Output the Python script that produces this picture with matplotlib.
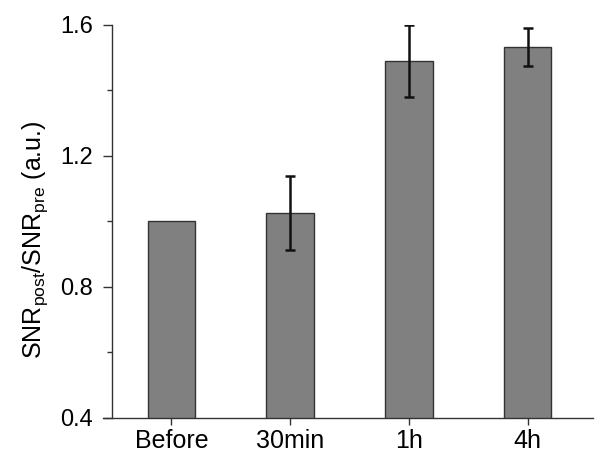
import matplotlib.pyplot as plt
from matplotlib.ticker import MultipleLocator

plt.rcParams["font.family"] = ["Liberation Sans", "DejaVu Sans"]
plt.rcParams["mathtext.fontset"] = "custom"
plt.rcParams["mathtext.rm"] = "Liberation Sans"

# data
groups = ["Before", "30min", "1h", "4h"]
ratio = [1.0, 1.025, 1.489, 1.531]
ratio_err = [0.0, 0.112, 0.11, 0.058]

fig = plt.figure(figsize=(6.02, 4.65), dpi=100)
ax = fig.add_axes([0.186, 0.102, 0.799, 0.845])

x = range(len(groups))
ax.bar(x, ratio, width=0.4, color="#808080", edgecolor="#333333", linewidth=1.0)
ax.errorbar([i for i in x if ratio_err[i] > 0],
            [ratio[i] for i in x if ratio_err[i] > 0],
            yerr=[ratio_err[i] for i in x if ratio_err[i] > 0],
            fmt="none", ecolor="#111111", elinewidth=1.8, capsize=3.5, capthick=1.8)

ax.set_xlim(-0.5, 3.55)
ax.set_ylim(0.4, 1.6)
ax.set_xticks(list(x))
ax.set_xticklabels(groups, fontsize=18)
ax.yaxis.set_minor_locator(MultipleLocator(0.2))
ax.set_yticks([0.4, 0.8, 1.2, 1.6])
ax.set_yticklabels(["0.4", "0.8", "1.2", "1.6"], fontsize=17)

ax.spines["top"].set_visible(False)
ax.spines["right"].set_visible(False)
for s in ["left", "bottom"]:
    ax.spines[s].set_color("#333333")
    ax.spines[s].set_linewidth(1.0)
ax.spines["bottom"].set_bounds(-0.576, 3.55)

ax.tick_params(axis="both", which="major", direction="out",
               color="#333333", width=1.0)
ax.tick_params(axis="y", which="major", length=6.5, pad=7)
ax.tick_params(axis="y", which="minor", length=3.5, color="#333333", width=1.0)
ax.tick_params(axis="x", which="major", length=5, pad=3)

ax.set_ylabel(r"SNR$_{\mathrm{post}}$/SNR$_{\mathrm{pre}}$ (a.u.)", fontsize=18)
ax.yaxis.set_label_coords(-0.129, 0.453)

plt.savefig("out.png", dpi=100)
